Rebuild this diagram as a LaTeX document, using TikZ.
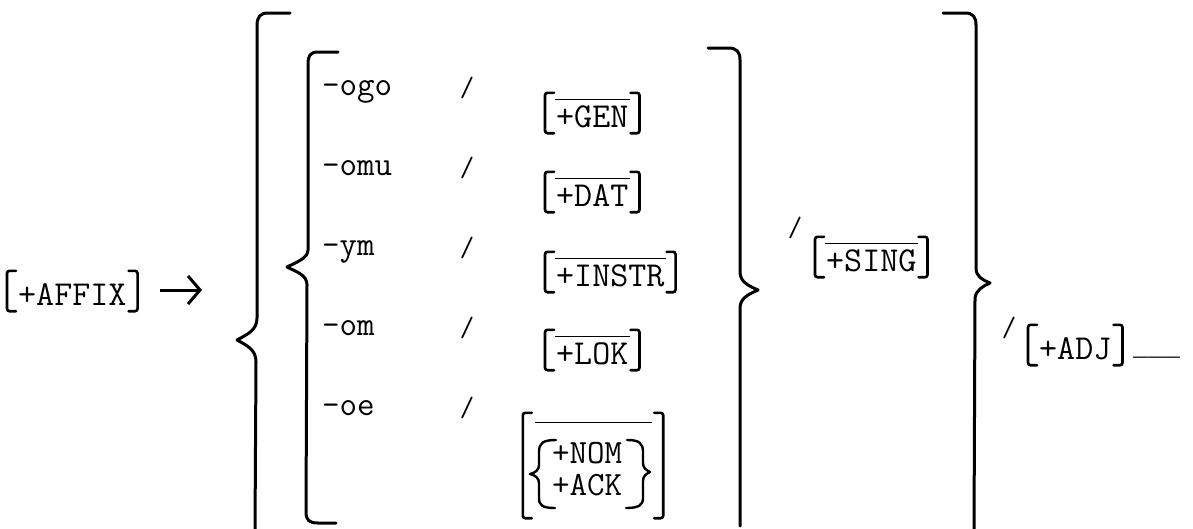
\documentclass[tikz,border=0pt]{standalone}
\usepackage{fontspec}
\newfontfamily\blankfont{Liberation Mono}
\usetikzlibrary{arrows.meta}
\newcommand\featbr[1]{%
  \draw[brk] ([xshift=9pt]#1.north west) -- (#1.north west) -- (#1.south west) -- ([xshift=9pt]#1.south west);
  \draw[brk] ([xshift=-9pt]#1.north east) -- (#1.north east) -- (#1.south east) -- ([xshift=-9pt]#1.south east);}
\newcommand\featov[1]{%
  \draw[ovl] ([xshift=10pt,yshift=-7pt]#1.north west) -- ([xshift=-10pt,yshift=-7pt]#1.north east);}
\begin{document}
\begin{tikzpicture}[x=1pt,y=-1pt,
  brace/.style={line width=3pt, line cap=round, line join=round},
  sbrace/.style={line width=2.4pt, line cap=round, line join=round},
  brk/.style={line width=2.6pt, rounded corners=2.5pt, line cap=round},
  ovl/.style={line width=1.3pt},
  row/.style={font=\ttfamily\fontsize{34}{40}\selectfont, anchor=base west, inner sep=0pt},
  lab/.style={font=\ttfamily\fontsize{34}{40}\selectfont, anchor=base west, inner sep=0pt},
  sl/.style={font=\ttfamily\fontsize{28}{34}\selectfont, inner sep=0pt},
  feat/.style={font=\ttfamily\fontsize{35}{40}\selectfont, inner xsep=11pt, inner ysep=0pt,
    minimum height=40pt, text height=28pt, text depth=0pt, anchor=west},
]
\useasboundingbox (0,0) rectangle (1193,528);

% left side
\node[feat] (affix) at (7,291) {+AFFIX};
\featbr{affix}
\coordinate (arrS) at (160,290);
\coordinate (arrE) at (202,290);
\draw[line width=3pt, -{Straight Barb[length=12pt,width=28pt]}] (arrS) -- (arrE);

% outer left brace
\draw[brace] (290,13) -- (268,13) .. controls (260,13) and (257,17) .. (257,26) -- (257,318)
  .. controls (257,330) and (248,334) .. (237,340) .. controls (248,346) and (256,350) .. (256,362) -- (255,530);
% inner left brace
\draw[brace] (338,52) -- (318,52) .. controls (310,52) and (308,56) .. (308,64) -- (308,250)
  .. controls (308,258) and (297,262) .. (287,267) .. controls (297,272) and (307,275) .. (307,285)
  -- (306,512) .. controls (306,520) and (309,523) .. (318,523) -- (336,523);

% rows
\node[row] (r1) at (322,95) {-ogo};
\node[row] (r2) at (322,175) {-omu};
\node[row] (r3) at (322,255) {-ym};
\node[row] (r4) at (322,335) {-om};
\node[row] (r5) at (322,415) {-oe};
\node[sl] (s1) at (467,88) {/};
\node[sl] (s2) at (467,168) {/};
\node[sl] (s3) at (467,248) {/};
\node[sl] (s4) at (467,328) {/};
\node[sl] (s5) at (467,408) {/};

% feature brackets
\node[feat] (gen) at (545,113) {+GEN};
\featbr{gen}\featov{gen}
\node[feat] (dat) at (545,192) {+DAT};
\featbr{dat}\featov{dat}
\node[feat] (instr) at (545,272) {+INSTR};
\featbr{instr}\featov{instr}
\node[feat] (lok) at (545,350) {+LOK};
\featbr{lok}\featov{lok}

% NOM / ACK group
\node[inner sep=0pt, minimum width=140pt, minimum height=105pt] (na) at (593,465.5) {};
\featbr{na}
\draw[ovl] ([xshift=12pt,yshift=-10pt]na.north west) -- ([xshift=-11pt,yshift=-10pt]na.north east);
\node[lab] (nom) at (552,463) {+NOM};
\node[lab] (ack) at (552,495) {+ACK};
\draw[sbrace] (556,440) .. controls (543,440) and (539,443) .. (539,452) -- (539,465)
  .. controls (539,470) and (535,473) .. (530,474) .. controls (535,475) and (539,478) .. (539,483)
  -- (539,498) .. controls (539,505) and (542,508) .. (555,508);
\draw[sbrace] (627,440) .. controls (639,440) and (643,443) .. (643,452) -- (643,463)
  .. controls (643,468) and (646,470) .. (650,472) .. controls (646,474) and (643,476) .. (643,481)
  -- (643,498) .. controls (643,505) and (639,508) .. (626,508);

% inner right brace
\draw[brace] (708,48) -- (728,48) .. controls (737,48) and (740,52) .. (740,60) -- (740,272)
  .. controls (740,282) and (749,286) .. (758,290) .. controls (749,294) and (740,298) .. (740,308) -- (740,526);

% SING
\node[sl] (s6) at (795,228) {/};
\node[feat] (sing) at (815,257) {+SING};
\featbr{sing}\featov{sing}

% outer right brace
\draw[brace] (943,13) -- (965,13) .. controls (973,13) and (976,17) .. (976,25) -- (976,268)
  .. controls (976,277) and (983,280) .. (990,283) .. controls (983,286) and (976,290) .. (975,298) -- (974,530);

% ADJ
\node[sl] (s7) at (1009,328) {/};
\node[feat] (adj) at (1028,345) {+ADJ};
\featbr{adj}
\node[font=\blankfont\fontsize{26}{30}\selectfont, anchor=base west, inner sep=0pt] (blank) at (1133,355) {\_\_\_};
\end{tikzpicture}
\end{document}
